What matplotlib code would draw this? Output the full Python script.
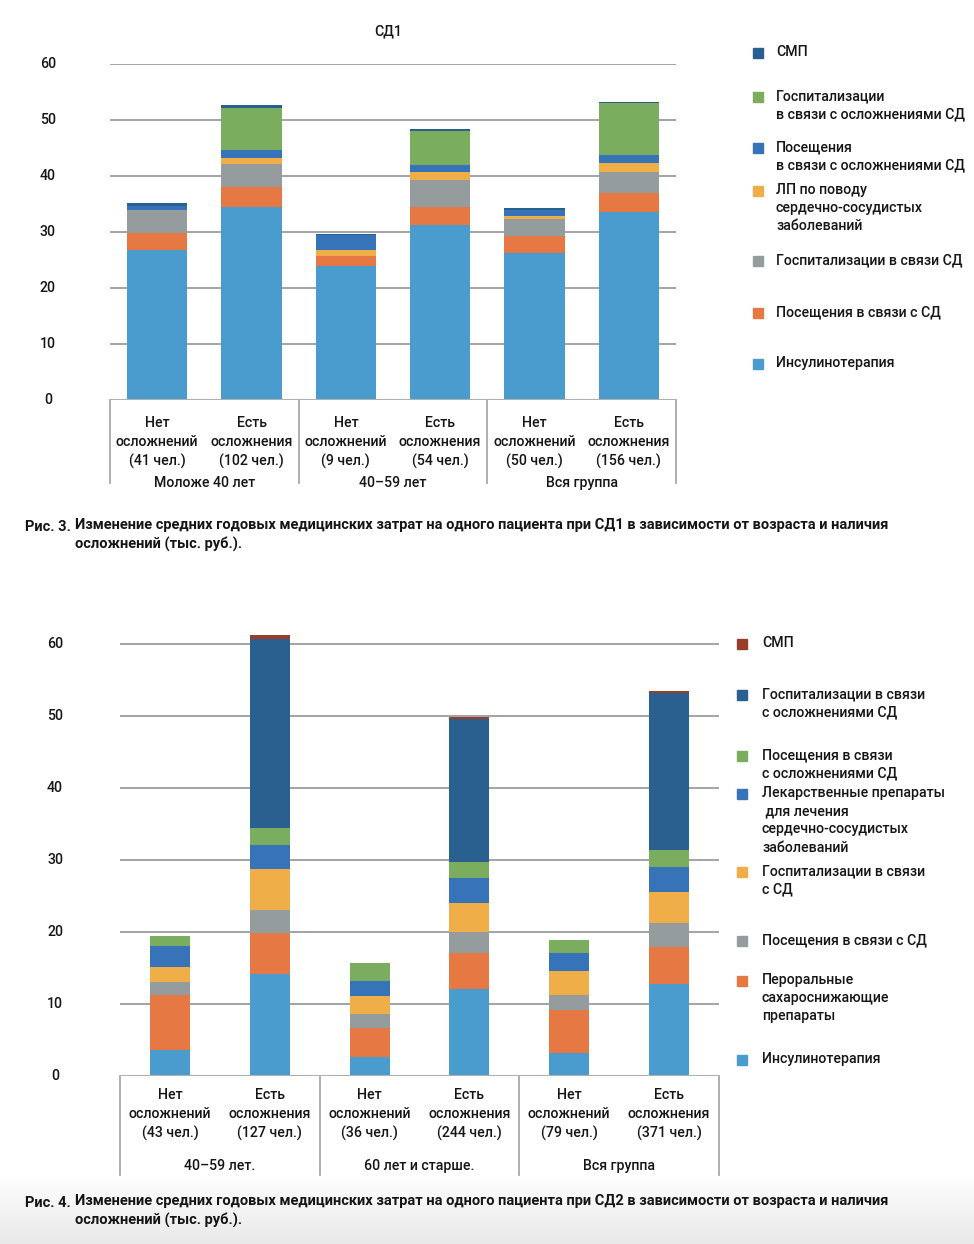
import matplotlib
matplotlib.use("Agg")
import matplotlib.pyplot as plt
import matplotlib.transforms as mtransforms
import numpy as np

plt.rcParams['font.family'] = ['Roboto', 'Noto Sans', 'DejaVu Sans']
plt.rcParams['font.weight'] = 'medium'

W, H = 974, 1244

# ---------------- DATA: chart 1 (СД1) ----------------
c1_sub = ["Нет\nосложнений\n(41 чел.)", "Есть\nосложнения\n(102 чел.)",
          "Нет\nосложнений\n(9 чел.)", "Есть\nосложнения\n(54 чел.)",
          "Нет\nосложнений\n(50 чел.)", "Есть\nосложнения\n(156 чел.)"]
c1_groups = ["Моложе 40 лет", "40–59 лет", "Вся группа"]
c1_insulin = [26.7, 34.4, 24.0, 31.3, 26.3, 33.5]
c1_visits_sd = [3.1, 3.7, 1.8, 3.2, 2.9, 3.4]
c1_hosp_sd = [4.2, 4.1, 0.0, 4.8, 3.2, 3.9]
c1_lp_cvd = [0.0, 1.1, 0.9, 1.4, 0.5, 1.6]
c1_visits_compl = [0.7, 1.4, 2.7, 1.2, 1.1, 1.4]
c1_hosp_compl = [0.0, 7.5, 0.0, 6.1, 0.0, 9.3]
c1_smp = [0.5, 0.4, 0.2, 0.35, 0.2, 0.2]
c1_names = ["Инсулинотерапия", "Посещения в связи с СД", "Госпитализации в связи СД",
            "ЛП по поводу\nсердечно-сосудистых\nзаболеваний",
            "Посещения\nв связи с осложнениями СД",
            "Госпитализации\nв связи с осложнениями СД", "СМП"]

# ---------------- DATA: chart 2 (СД2) ----------------
c2_sub = ["Нет\nосложнений\n(43 чел.)", "Есть\nосложнения\n(127 чел.)",
          "Нет\nосложнений\n(36 чел.)", "Есть\nосложнения\n(244 чел.)",
          "Нет\nосложнений\n(79 чел.)", "Есть\nосложнения\n(371 чел.)"]
c2_groups = ["40–59 лет.", "60 лет и старше.", "Вся группа"]
c2_insulin = [3.6, 14.2, 2.6, 12.1, 3.15, 12.8]
c2_oral = [7.6, 5.6, 4.1, 5.0, 6.0, 5.1]
c2_visits_sd = [1.9, 3.3, 1.9, 2.9, 2.1, 3.3]
c2_hosp_sd = [2.1, 5.7, 2.5, 4.0, 3.3, 4.3]
c2_lp_cvd = [2.8, 3.3, 2.1, 3.5, 2.5, 3.5]
c2_visits_compl = [1.5, 2.4, 2.5, 2.2, 1.9, 2.4]
c2_hosp_compl = [0.0, 26.2, 0.0, 19.9, 0.0, 21.8]
c2_smp = [0.0, 0.6, 0.0, 0.3, 0.0, 0.3]
c2_names = ["Инсулинотерапия", "Пероральные\nсахароснижающие\nпрепараты",
            "Посещения в связи с СД", "Госпитализации в связи\nс СД",
            "Лекарственные препараты\n для лечения\nсердечно-сосудистых\nзаболеваний",
            "Посещения в связи\nс осложнениями СД",
            "Госпитализации в связи\nс осложнениями СД", "СМП"]

yticks = [0, 10, 20, 30, 40, 50, 60]

C_INS = "#4A9BCE"
C_OR = "#E57843"
C_GR = "#959C9E"
C_YE = "#EFAE48"
C_BL = "#3673B8"
C_GN = "#7BAD5F"
C_DB = "#2A6090"
C_BR = "#963E2A"

c1_colors = [C_INS, C_OR, C_GR, C_YE, C_BL, C_GN, C_DB]
c2_colors = [C_INS, C_OR, C_GR, C_YE, C_BL, C_GN, C_DB, C_BR]

fig = plt.figure(figsize=(W / 100, H / 100), dpi=100)
fig.patch.set_facecolor("white")

# pixel transform (origin top-left)
px = mtransforms.Affine2D().scale(1 / W, -1 / H).translate(0, 1) + fig.transFigure

# bottom gradient background
bg = fig.add_axes([0, 0, 1, 70 / H], zorder=-5)
grad = np.linspace(1, 0, 100).reshape(-1, 1)
bg.imshow(grad, aspect="auto", cmap=matplotlib.colors.LinearSegmentedColormap.from_list(
    "g", ["#e9e9e9", "#ffffff"]), extent=[0, 1, 0, 1], vmin=0, vmax=1)
bg.axis("off")

TXT = "#151515"
FS = 10.2


def rect(left, top, right, bottom):
    return [left / W, 1 - bottom / H, (right - left) / W, (bottom - top) / H]


def draw_chart(left, right, y0, y60, ymax, series, colors, width, sub, groups,
               sub_y, group_y, line_bottom, ytick_x):
    ppu = (y0 - y60) / 60.0
    top = y0 - ymax * ppu
    ax = fig.add_axes(rect(left, top, right, y0))
    x = np.arange(len(sub))
    bottom = np.zeros(len(sub))
    for vals, col in zip(series, colors):
        ax.bar(x, vals, width=width, bottom=bottom, color=col, zorder=3, linewidth=0)
        bottom = bottom + np.array(vals)
    ax.set_xlim(-0.5, len(sub) - 0.5)
    ax.set_ylim(0, ymax)
    for t in yticks[1:]:
        ax.axhline(t, color="#9c9c9c", lw=1.3, zorder=1)
    ax.axhline(0, color="#b0b0b0", lw=1.5, zorder=4)
    ax.set_xticks([])
    ax.set_yticks([])
    for s in ax.spines.values():
        s.set_visible(False)
    ax.patch.set_alpha(0)
    # y tick labels
    for t in yticks:
        fig.text(ytick_x, y0 - t * ppu, str(t), transform=px, ha="center", va="center",
                 fontsize=FS, color=TXT)
    # category table
    bt = mtransforms.blended_transform_factory(ax.transData, px)
    for i, lab in enumerate(sub):
        ax.text(x[i], sub_y, lab, transform=bt, ha="center", va="top", fontsize=FS,
                color=TXT, linespacing=1.42)
    for g, lab in enumerate(groups):
        ax.text(2 * g + 0.5, group_y, lab, transform=bt, ha="center", va="center",
                fontsize=FS, color=TXT)
    for b in [-0.5, 1.5, 3.5, 5.5]:
        ax.plot([b, b], [y0, line_bottom], transform=bt, color="#a8a8a8", lw=1.3,
                clip_on=False)
    return ax


ax1 = draw_chart(110, 676, 400, 64, 60,
                 [c1_insulin, c1_visits_sd, c1_hosp_sd, c1_lp_cvd, c1_visits_compl,
                  c1_hosp_compl, c1_smp],
                 c1_colors, 0.64, c1_sub, c1_groups, 416, 483, 483, 48)
fig.text(388, 31, "СД1", transform=px, ha="center", va="center", fontsize=FS, color=TXT)

ax2 = draw_chart(120, 719, 1076, 644, 63,
                 [c2_insulin, c2_oral, c2_visits_sd, c2_hosp_sd, c2_lp_cvd,
                  c2_visits_compl, c2_hosp_compl, c2_smp],
                 c2_colors, 0.40, c2_sub, c2_groups, 1088, 1166, 1175, 55)

# legends (top-to-bottom order)
leg1_y = [53, 97, 148, 191, 261, 313, 364]
for name, col, yy in zip(c1_names[::-1], c1_colors[::-1], leg1_y):
    fig.patches.append(matplotlib.patches.Rectangle((753, yy - 5), 10, 10, transform=px,
                                                    color=col, figure=fig))
    fig.text(776, yy - 8, name, transform=px, ha="left", va="top", fontsize=FS,
             color=TXT, linespacing=1.38)

leg2_y = [644, 695, 756, 794, 872, 941, 981, 1060]
for name, col, yy in zip(c2_names[::-1], c2_colors[::-1], leg2_y):
    fig.patches.append(matplotlib.patches.Rectangle((737, yy - 5), 10, 10, transform=px,
                                                    color=col, figure=fig))
    fig.text(762, yy - 8, name, transform=px, ha="left", va="top", fontsize=FS,
             color=TXT, linespacing=1.38)

# captions
cap1 = ("Изменение средних годовых медицинских затрат на одного пациента при СД1 в зависимости от возраста и наличия\n"
        "осложнений (тыс. руб.).")
cap2 = ("Изменение средних годовых медицинских затрат на одного пациента при СД2 в зависимости от возраста и наличия\n"
        "осложнений (тыс. руб.).")
CFS = 10.5
fig.text(25, 527, "Рис. 3.", transform=px, ha="left", va="center", fontsize=CFS,
         fontweight="bold", color=TXT)
fig.text(75, 518, cap1, transform=px, ha="left", va="top", fontsize=CFS,
         fontweight="bold", color=TXT, linespacing=1.4)
fig.text(25, 1203, "Рис. 4.", transform=px, ha="left", va="center", fontsize=CFS,
         fontweight="bold", color=TXT)
fig.text(75, 1194, cap2, transform=px, ha="left", va="top", fontsize=CFS,
         fontweight="bold", color=TXT, linespacing=1.4)

fig.savefig("out.png", dpi=100)
